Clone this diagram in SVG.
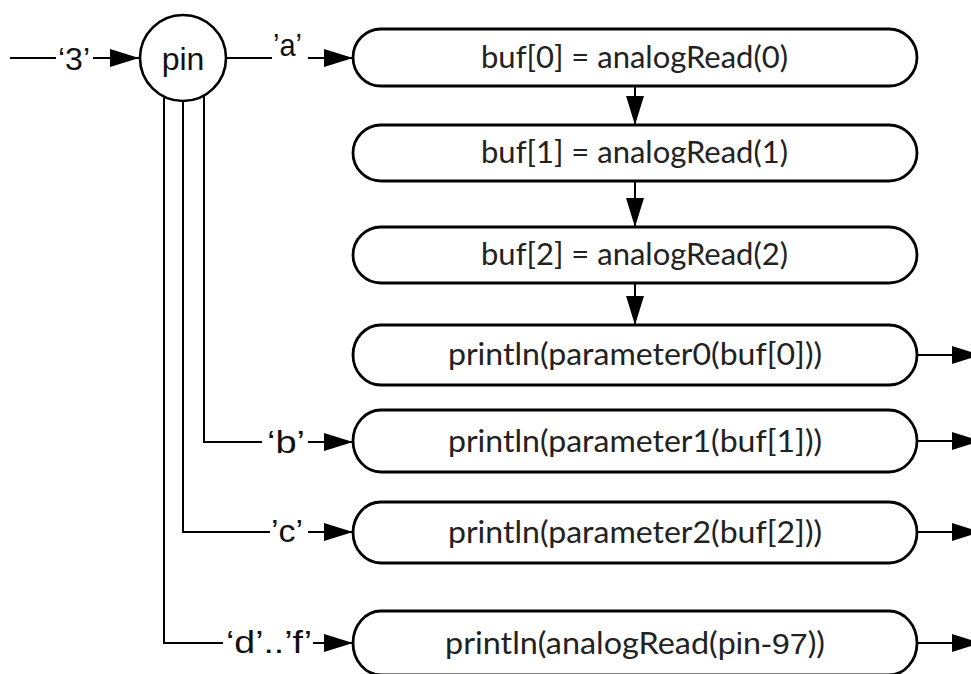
<svg xmlns="http://www.w3.org/2000/svg" width="971" height="674" viewBox="0 0 971 674">
<defs>
<marker id="ah" markerUnits="userSpaceOnUse" markerWidth="30" markerHeight="18" refX="29" refY="9" orient="auto">
<path d="M0,0 L29,9 L0,18 z" fill="#000"/>
</marker>
<style>
.box{fill:#fff;stroke:#000;stroke-width:2.8}
.circ{fill:#fff;stroke:#000;stroke-width:2.6}
.ln{fill:none;stroke:#000;stroke-width:2}
.arr{fill:none;stroke:#000;stroke-width:2;marker-end:url(#ah)}
.bt{font-family:Lato,"Open Sans",sans-serif;font-size:30px;fill:#222}
.lb{font-family:"Liberation Sans",Arial,sans-serif;font-size:32px;fill:#111}
</style>
</defs>
<rect width="971" height="674" fill="#fff"/>
<g id="connectors">
<line class="ln" x1="10" y1="58" x2="56" y2="58"/>
<line class="arr" x1="93" y1="58" x2="139" y2="58"/>
<line class="ln" x1="227" y1="58" x2="272" y2="58"/>
<line class="arr" x1="308" y1="58" x2="353" y2="58"/>
<path class="ln" d="M204,95 V442 H262"/>
<line class="arr" x1="308" y1="442" x2="353" y2="442"/>
<path class="ln" d="M183,100 V532 H270"/>
<line class="arr" x1="308" y1="532" x2="353" y2="532"/>
<path class="ln" d="M164,96 V643 H223"/>
<line class="arr" x1="313" y1="643" x2="353" y2="643"/>
<line class="arr" x1="635" y1="86" x2="635" y2="125"/>
<line class="arr" x1="635" y1="181" x2="635" y2="227"/>
<line class="arr" x1="635" y1="283" x2="635" y2="325"/>
<line class="arr" x1="917" y1="355" x2="981" y2="355"/>
<line class="arr" x1="917" y1="441" x2="981" y2="441"/>
<line class="arr" x1="917" y1="532" x2="981" y2="532"/>
<line class="arr" x1="917" y1="643" x2="981" y2="643"/>
<text class="lb" x="58" y="70" textLength="32" lengthAdjust="spacingAndGlyphs">‘3’</text>
<text class="lb" x="273" y="56" textLength="29" lengthAdjust="spacingAndGlyphs">’a’</text>
<text class="lb" x="267" y="453" textLength="38" lengthAdjust="spacingAndGlyphs">‘b’</text>
<text class="lb" x="271" y="542" textLength="32" lengthAdjust="spacingAndGlyphs">’c’</text>
<text class="lb" x="226" y="653" textLength="86" lengthAdjust="spacingAndGlyphs">‘d’..’f’</text>
</g>
<g id="pin">
<circle class="circ" cx="183" cy="58" r="43"/>
<text class="lb" x="183" y="70" text-anchor="middle">pin</text>
</g>
<g id="buf0">
<rect class="box" x="353" y="29" width="564" height="57" rx="28" ry="28.5"/>
<text class="bt" x="481" y="68" textLength="307" lengthAdjust="spacingAndGlyphs">buf[0] = analogRead(0)</text>
</g>
<g id="buf1">
<rect class="box" x="353" y="125" width="564" height="56" rx="28" ry="28"/>
<text class="bt" x="481" y="163" textLength="307" lengthAdjust="spacingAndGlyphs">buf[1] = analogRead(1)</text>
</g>
<g id="buf2">
<rect class="box" x="353" y="227" width="564" height="56" rx="28" ry="28"/>
<text class="bt" x="481" y="265" textLength="307" lengthAdjust="spacingAndGlyphs">buf[2] = analogRead(2)</text>
</g>
<g id="print0">
<rect class="box" x="353" y="325" width="564" height="60" rx="28" ry="30"/>
<text class="bt" x="448" y="365" textLength="374" lengthAdjust="spacingAndGlyphs">println(parameter0(buf[0]))</text>
</g>
<g id="print1">
<rect class="box" x="353" y="410" width="564" height="62" rx="28" ry="31"/>
<text class="bt" x="448" y="452" textLength="374" lengthAdjust="spacingAndGlyphs">println(parameter1(buf[1]))</text>
</g>
<g id="print2">
<rect class="box" x="353" y="502" width="564" height="61" rx="28" ry="30.5"/>
<text class="bt" x="448" y="543" textLength="374" lengthAdjust="spacingAndGlyphs">println(parameter2(buf[2]))</text>
</g>
<g id="printpin">
<rect class="box" x="353" y="611" width="564" height="64" rx="28" ry="32"/>
<text class="bt" x="445" y="654" textLength="380" lengthAdjust="spacingAndGlyphs">println(analogRead(<tspan style="font-family:'Liberation Sans',Arial,sans-serif">pin-97</tspan>))</text>
</g>
</svg>
